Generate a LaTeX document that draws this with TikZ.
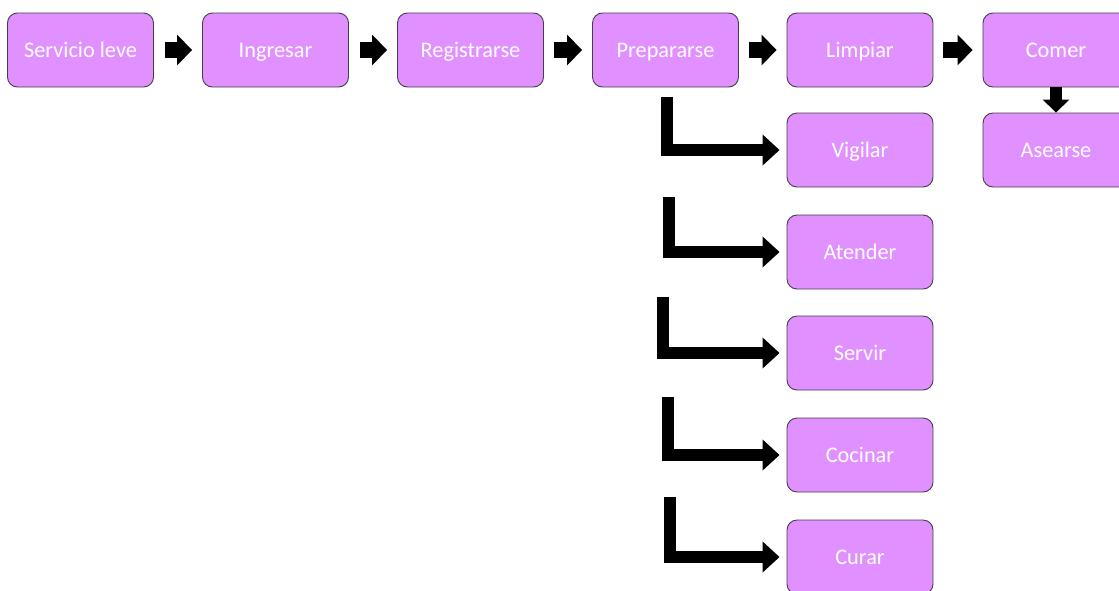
\documentclass[tikz,border=0pt]{standalone}
\usepackage{fontspec}
\setmainfont{Carlito}
\usetikzlibrary{arrows.meta}
\definecolor{boxfill}{RGB}{225,145,255}
\definecolor{boxline}{RGB}{70,60,75}
\begin{document}
\begin{tikzpicture}[x=1pt,y=-1pt,
  box/.style={draw=boxline, line width=0.9pt, fill=boxfill, rounded corners=10pt,
    minimum width=146pt, minimum height=74pt, inner sep=0pt, text=white,
    text height=14.2pt, text depth=0pt,
    font=\fontsize{22.3}{26}\selectfont},
  flowarrow/.style={line width=16pt, -{Triangle[length=15pt,width=30pt]}},
  larrow/.style={line width=12pt, line join=miter, -{Triangle[length=17pt,width=30pt]}, shorten >=7pt}
]
\useasboundingbox (0,0) rectangle (1119,590);
\begin{scope}
\clip (0,0) rectangle (1119,590);
\node[box] (serv) at (80.5,50) {Servicio leve};
\node[box] (ing) at (275.5,50) {Ingresar};
\node[box] (reg) at (470.5,50) {Registrarse};
\node[box] (prep) at (665.5,50) {Prepararse};
\node[box] (limp) at (860,50) {Limpiar};
\node[box] (com) at (1056,50) {Comer};
\node[box] (ase) at (1056,150) {Asearse};
\node[box] (vig) at (860,150) {Vigilar};
\node[box] (ate) at (860,252) {Atender};
\node[box] (ser) at (860,353) {Servir};
\node[box] (coc) at (860,455) {Cocinar};
\node[box] (cur) at (860,557) {Curar};

\draw[flowarrow, shorten <=11pt, shorten >=10pt] (serv.east) -- (ing.west);
\draw[flowarrow, shorten <=11pt, shorten >=10pt] (ing.east) -- (reg.west);
\draw[flowarrow, shorten <=10pt, shorten >=10pt] (reg.east) -- (prep.west);
\draw[flowarrow, shorten <=10pt, shorten >=10pt] (prep.east) -- (limp.west);
\draw[flowarrow, shorten <=10pt, shorten >=10pt] (limp.east) -- (com.west);
\draw[line width=12pt, -{Triangle[length=13pt,width=26pt]}] (com.south) -- (ase.north);

\coordinate (s1) at (666.5,97);
\coordinate (s2) at (668.5,197);
\coordinate (s3) at (663,297);
\coordinate (s4) at (668,397);
\coordinate (s5) at (670,497);
\draw[larrow] (s1) |- (vig.west);
\draw[larrow] (s2) |- (ate.west);
\draw[larrow] (s3) |- (ser.west);
\draw[larrow] (s4) |- (coc.west);
\draw[larrow] (s5) |- (cur.west);
\end{scope}
\end{tikzpicture}
\end{document}
